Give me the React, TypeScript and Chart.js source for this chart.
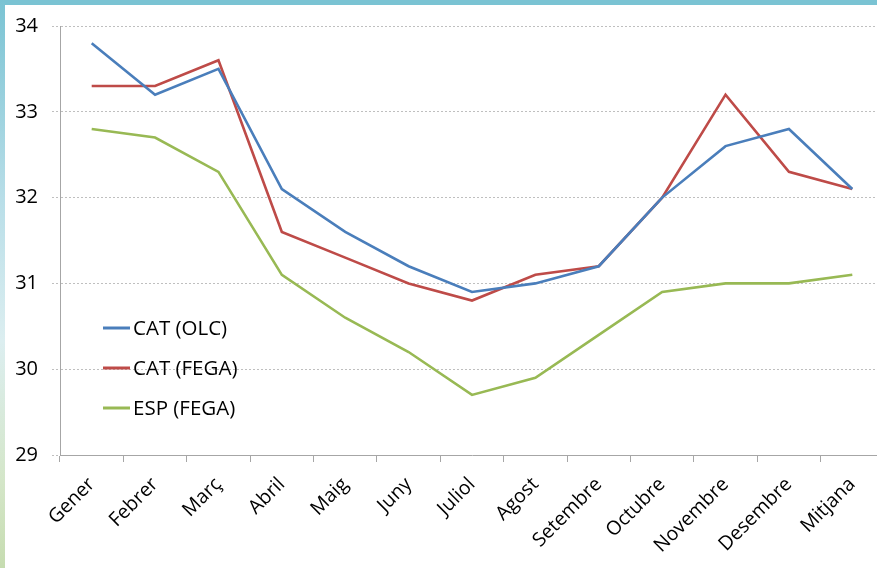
import React, { useEffect, useRef } from "react";
import { Chart, registerables } from "chart.js";

Chart.register(...registerables);

const categories = ["Gener", "Febrer", "Març", "Abril", "Maig", "Juny", "Juliol", "Agost", "Setembre", "Octubre", "Novembre", "Desembre", "Mitjana"];
const catOlc = [33.8, 33.2, 33.5, 32.1, 31.6, 31.2, 30.9, 31.0, 31.2, 32.0, 32.6, 32.8, 32.1];
const catFega = [33.3, 33.3, 33.6, 31.6, 31.3, 31.0, 30.8, 31.1, 31.2, 32.0, 33.2, 32.3, 32.1];
const espFega = [32.8, 32.7, 32.3, 31.1, 30.6, 30.2, 29.7, 29.9, 30.4, 30.9, 31.0, 31.0, 31.1];
const seriesLabels = ["CAT (OLC)", "CAT (FEGA)", "ESP (FEGA)"];
const yMin = 29;
const yMax = 34;

const FONT = "'Open Sans', 'Noto Sans', sans-serif";

const insideLegend = {
  id: "insideLegend",
  afterDraw(chart: any) {
    const ctx = chart.ctx;
    const x0 = 103;
    const ys = [328, 368, 408];
    ctx.save();
    chart.data.datasets.forEach((ds: any, i: number) => {
      const y = ys[i];
      ctx.strokeStyle = ds.borderColor;
      ctx.lineWidth = 3;
      ctx.beginPath();
      ctx.moveTo(x0, y);
      ctx.lineTo(x0 + 27, y);
      ctx.stroke();
      ctx.fillStyle = "#000";
      ctx.font = `20.5px ${FONT}`;
      ctx.textBaseline = "middle";
      ctx.textAlign = "left";
      ctx.fillText(ds.label, x0 + 30, y + 1);
    });
    ctx.restore();
  },
};

export default function App() {
  const ref = useRef<HTMLCanvasElement>(null);
  useEffect(() => {
    document.body.style.margin = "0";
    document.body.style.overflow = "hidden";
    const chart = new Chart(ref.current!, {
      type: "line",
      data: {
        labels: categories,
        datasets: [
          { label: seriesLabels[0], data: catOlc, borderColor: "#4A7EBB", backgroundColor: "#4A7EBB", borderWidth: 2.6, pointRadius: 0, tension: 0 },
          { label: seriesLabels[1], data: catFega, borderColor: "#BE4B48", backgroundColor: "#BE4B48", borderWidth: 2.6, pointRadius: 0, tension: 0 },
          { label: seriesLabels[2], data: espFega, borderColor: "#98B954", backgroundColor: "#98B954", borderWidth: 2.6, pointRadius: 0, tension: 0 },
        ],
      },
      options: {
        animation: false,
        responsive: false,
        maintainAspectRatio: false,
        layout: { padding: { top: 26, right: 0, left: 0, bottom: 0 } },
        plugins: { legend: { display: false }, tooltip: { enabled: false } },
        scales: {
          x: {
            offset: true,
            grid: { offset: true, drawOnChartArea: false, drawTicks: true, tickLength: 7, color: "#A6A6A6" },
            border: { display: true, color: "#A6A6A6", width: 1 },
            ticks: { maxRotation: 45, minRotation: 45, font: { size: 19.5, family: FONT }, color: "#000", padding: 11 },
            afterFit: (s: any) => { s.height = 113; },
          },
          y: {
            min: yMin,
            max: yMax,
            ticks: { stepSize: 1, font: { size: 20, family: FONT }, color: "#000", padding: 14 },
            grid: {
              color: (c: any) => (c.tick && c.tick.value === yMin ? "rgba(0,0,0,0)" : "#BFBFBF"),
              tickColor: "#BFBFBF",
              tickLength: 8,
              tickBorderDash: [2, 2],
            },
            border: { display: true, color: "#A6A6A6", dash: [2, 2] as any },
            afterFit: (s: any) => { s.width = 60; },
          },
        },
      },
      plugins: [insideLegend],
    });
    return () => chart.destroy();
  }, []);
  return (
    <div style={{ position: "absolute", left: 0, top: 0, width: 877, height: 568, overflow: "hidden", background: "#fff" }}>
      <canvas ref={ref} width={884} height={568} style={{ position: "absolute", left: 0, top: 0, width: 884, height: 568 }} />
      <div style={{ position: "absolute", left: 0, top: 0, width: 877, height: 5, background: "#7AC3D3" }} />
      <div style={{ position: "absolute", left: 0, top: 0, width: 5, height: 568, background: "linear-gradient(#7AC3D3, #B8DEE8 35%, #DCEEF0 60%, #D4E6C8 85%, #C6DCB0)" }} />
    </div>
  );
}
